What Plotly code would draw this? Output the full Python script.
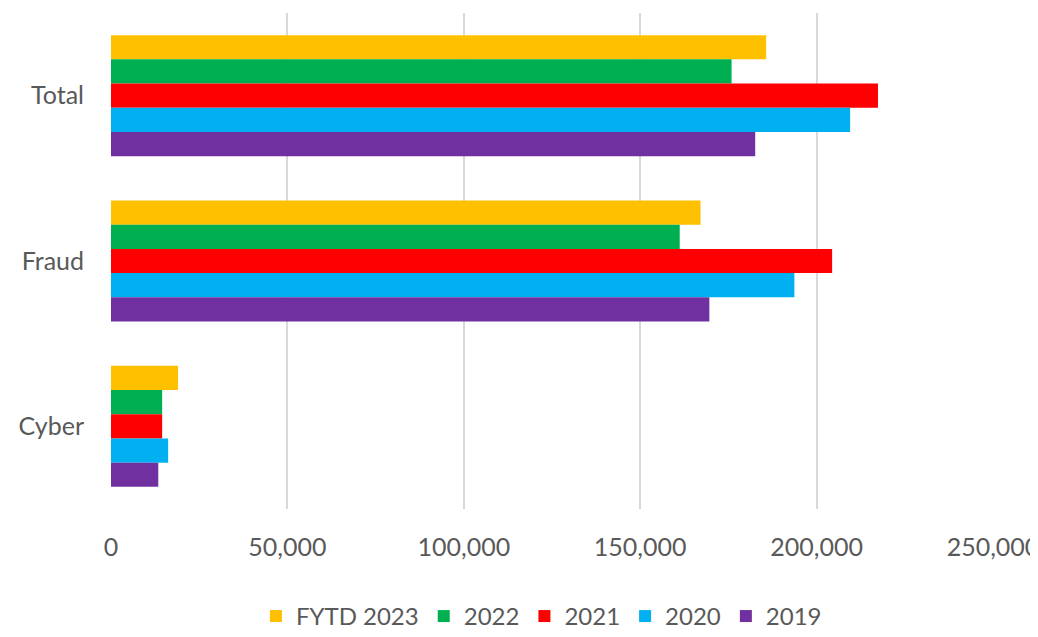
import plotly.graph_objects as go

categories = ["Total", "Fraud", "Cyber"]
series_names = ["FYTD 2023", "2022", "2021", "2020", "2019"]
fytd_2023 = [185700, 167100, 19000]
y2022 = [175900, 161200, 14500]
y2021 = [217400, 204400, 14500]
y2020 = [209500, 193700, 16200]
y2019 = [182600, 169600, 13400]
colors = ["#FFC000", "#00B050", "#FF0000", "#00B0F0", "#7030A0"]
tick_vals = [0, 50000, 100000, 150000, 200000, 250000]
tick_text = ["0", "50,000", "100,000", "150,000", "200,000", "250,000"]

series = [fytd_2023, y2022, y2021, y2020, y2019]
font_family = "Lato, sans-serif"

fig = go.Figure()
for name, vals, col in zip(series_names, series, colors):
    fig.add_trace(go.Bar(
        y=categories, x=vals, name=name, orientation="h",
        marker=dict(color=col, line=dict(width=0)),
    ))

fig.update_layout(
    width=1038, height=637,
    barmode="group", bargap=0.268, bargroupgap=0,
    plot_bgcolor="white", paper_bgcolor="white",
    margin=dict(l=103, r=53, t=5, b=136),
    font=dict(family=font_family, size=25, color="#595959"),
    xaxis=dict(
        range=[0, 250000], tickvals=tick_vals, ticktext=tick_text,
        showgrid=True, gridcolor="#D9D9D9", gridwidth=2,
        zeroline=False, showline=False, ticks="", ticklabelstandoff=21,
        automargin=False,
        tickfont=dict(size=25, color="#595959"),
    ),
    yaxis=dict(
        autorange="reversed", showgrid=False, zeroline=False,
        showline=False, ticks="", ticklabelstandoff=26,
        automargin=False,
        tickfont=dict(size=25, color="#595959"),
    ),
    legend=dict(
        orientation="h", x=0.488, xanchor="center", y=-0.262, yanchor="bottom",
        font=dict(size=24, color="#595959"), traceorder="normal",
        itemwidth=30,
    ),
)

fig.write_html("out.html")
